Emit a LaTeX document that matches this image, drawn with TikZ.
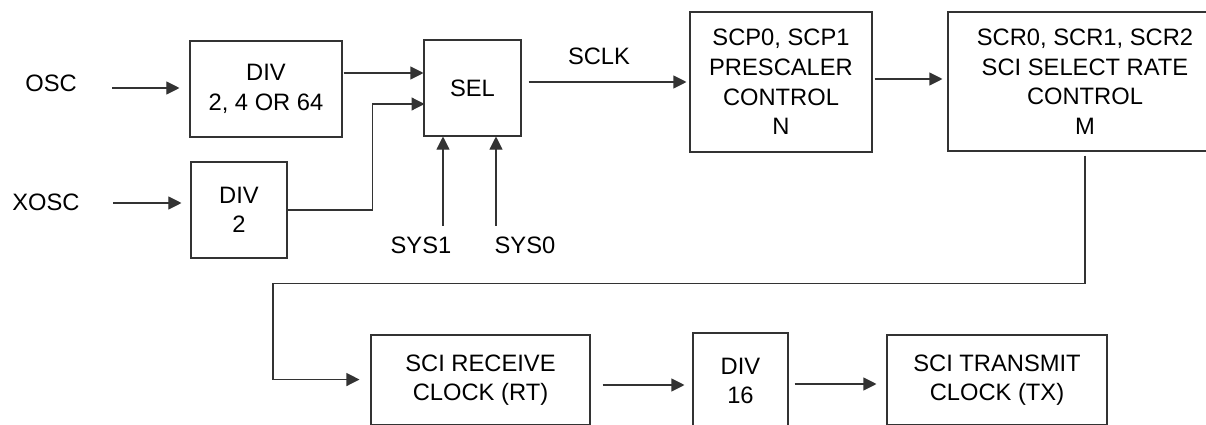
\documentclass[tikz,border=0pt]{standalone}
\usepackage{fontspec}
\setmainfont{Liberation Sans}
\usetikzlibrary{arrows.meta}

\begin{document}
\begin{tikzpicture}[x=0.2mm, y=-0.2mm, >={Triangle[length=2.6mm, width=2.6mm]},
	every node/.style={font=\fontsize{13.5}{16.8}\selectfont, align=center},
	blk/.style={draw=black!80, line width=0.6pt, inner sep=0pt},
	conn/.style={->, draw=black!80, line width=0.6pt}]
	\useasboundingbox (0,0) rectangle (1206,425);
	\clip (0,0) rectangle (1206,424);
	% inputs
	\node (osc) at (51,83) {OSC};
	\node (xosc) at (46,202) {XOSC};
	\node (sys1) at (421,245) {SYS1};
	\node (sys0) at (525,245) {SYS0};
	\node (sclk) at (599,56) {SCLK};
	% blocks
	\node[blk, minimum width=30.4mm, minimum height=19.2mm] (divA) at (266,89) {DIV\\2, 4 OR 64};
	\node[blk, minimum width=19.2mm, minimum height=19.2mm] (divB) at (239,210) {DIV\\2};
	\node[blk, minimum width=19.4mm, minimum height=19.2mm] (sel) at (472.5,88) {SEL};
	\node[blk, minimum width=36.4mm, minimum height=28mm] (pres) at (781,82) {SCP0, SCP1\\PRESCALER\\CONTROL\\N};
	\node[blk, minimum width=54.8mm, minimum height=27.8mm] (scr) at (1085,81.5) {SCR0, SCR1, SCR2\\SCI SELECT RATE\\CONTROL\\M};
	\node[blk, minimum width=43.8mm, minimum height=18mm] (rx) at (480.5,380) {SCI RECEIVE\\CLOCK (RT)};
	\node[blk, minimum width=19mm, minimum height=19.2mm] (div16) at (740.5,381) {DIV\\16};
	\node[blk, minimum width=44mm, minimum height=18mm] (tx) at (997,380) {SCI TRANSMIT\\CLOCK (TX)};
	% connectors
	\coordinate (oscin) at (112,88);
	\coordinate (xoscin) at (113,203);
	\coordinate (s1) at (443,226);
	\coordinate (s0) at (496,226);
	\draw[conn, shorten >=2mm] (oscin) -- (oscin -| divA.west);
	\draw[conn, shorten >=1.8mm] (xoscin) -- (xoscin -| divB.west);
	\draw[conn] (divA.east) ++(1,-16) coordinate (inA) -- (inA -| sel.west);
	\draw[conn] (divB.east) -- ++(85,0) |- ++(52,-106) coordinate (inB);
	\draw[conn] (s1) -- (s1 |- sel.south);
	\draw[conn] (s0) -- (s0 |- sel.south);
	\draw[conn, shorten >=0.6mm] (sel.east) ++(7,-6) coordinate (sclkin) -- (sclkin -| pres.west);
	\draw[conn, shorten >=1mm] (pres.east) ++(2,-3) coordinate (p1) -- (p1 -| scr.west);
	\draw[conn, shorten >=2.2mm] (scr.south) ++(0,4) -- ++(0,128) -| ++(-812,96) coordinate (l1) -- (l1 -| rx.west);
	\draw[conn, shorten >=1.6mm] (rx.east) ++(12,5) coordinate (r1) -- (r1 -| div16.west);
	\draw[conn, shorten >=2mm] (div16.east) ++(6,3) coordinate (d1) -- (d1 -| tx.west);
\end{tikzpicture}
\end{document}
